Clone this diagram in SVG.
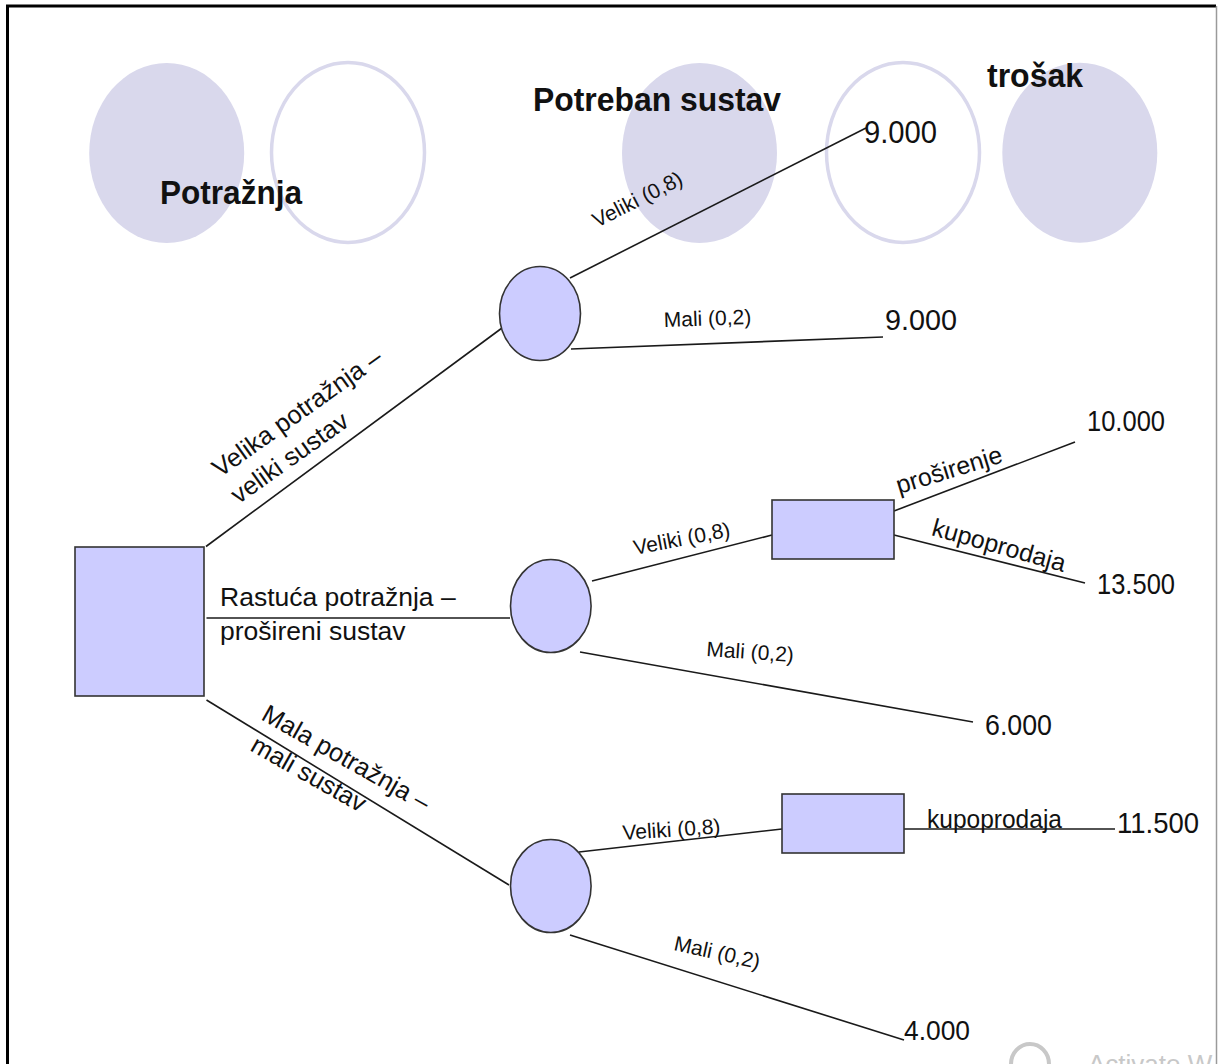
<svg xmlns="http://www.w3.org/2000/svg" width="1219" height="1064" viewBox="0 0 1219 1064">
<style>
  .bgf { fill: #d9d8ec; }
  .bgo { fill: none; stroke: #d9d8ec; stroke-width: 3.5; }
  .node { fill: #ccccff; stroke: #333333; stroke-width: 1.6; }
  .conn line { stroke: #1a1a1a; stroke-width: 1.6; }
  text { font-family: "Liberation Sans", Arial, sans-serif; fill: #111111; }
  .hdr { font-weight: bold; font-size: 34px; }
  .big { font-size: 25.5px; }
  .prob { font-size: 21px; }
  .act { font-size: 25px; }
  .num { font-size: 29px; }
  .wm { font-size: 26px; fill: #c8c8c8; }
</style>
<rect x="0" y="0" width="1219" height="1064" fill="#ffffff"/>
<!-- frame -->
<path d="M7.5,1070 V6 H1216" fill="none" stroke="#000000" stroke-width="3"/>
<line x1="1216.5" y1="6" x2="1216.5" y2="1070" stroke="#9a9a9a" stroke-width="1.5"/>

<!-- background decoration ellipses -->
<g id="background">
  <ellipse class="bgf" cx="166.7" cy="153" rx="77.5" ry="90"/>
  <ellipse class="bgo" cx="348" cy="152.5" rx="76.5" ry="90"/>
  <ellipse class="bgf" cx="699.5" cy="153" rx="77.5" ry="90"/>
  <ellipse class="bgo" cx="903" cy="152.5" rx="76.5" ry="90"/>
  <ellipse class="bgf" cx="1079.8" cy="152.7" rx="77.5" ry="90"/>
</g>

<!-- headers -->
<text class="hdr" x="160" y="204" textLength="142" lengthAdjust="spacingAndGlyphs">Potražnja</text>
<text class="hdr" x="533" y="111" textLength="248" lengthAdjust="spacingAndGlyphs">Potreban sustav</text>
<text class="hdr" x="987" y="86.5" textLength="96" lengthAdjust="spacingAndGlyphs">trošak</text>

<!-- connectors -->
<g id="connectors" class="conn">
  <line x1="206" y1="546.5" x2="502" y2="328"/>
  <line x1="570" y1="278" x2="866" y2="128"/>
  <line x1="571" y1="349" x2="883" y2="337"/>
  <line x1="206.5" y1="618" x2="510" y2="618"/>
  <line x1="592" y1="581" x2="772" y2="535"/>
  <line x1="894" y1="511" x2="1075" y2="442"/>
  <line x1="894" y1="535" x2="1085" y2="583"/>
  <line x1="580" y1="652" x2="973" y2="722"/>
  <line x1="206.5" y1="700" x2="509" y2="885"/>
  <line x1="579" y1="852" x2="782" y2="829"/>
  <line x1="904" y1="829" x2="1115" y2="829"/>
  <line x1="570" y1="935" x2="904" y2="1040"/>
</g>

<!-- nodes -->
<g id="root">
  <rect class="node" x="75" y="547" width="129" height="149"/>
</g>
<g id="chance-high">
  <ellipse class="node" cx="540" cy="313.5" rx="40.5" ry="47"/>
</g>
<g id="chance-growing">
  <ellipse class="node" cx="550.8" cy="606" rx="40.3" ry="46.5"/>
</g>
<g id="chance-low">
  <ellipse class="node" cx="550.8" cy="886" rx="40.3" ry="46.5"/>
</g>
<g id="decision-growing">
  <rect class="node" x="772" y="500" width="122" height="59"/>
</g>
<g id="decision-low">
  <rect class="node" x="782" y="794" width="122" height="59"/>
</g>

<!-- branch labels -->
<g id="labels">
  <text class="big" transform="translate(220,478) rotate(-35.4)">Velika potražnja –</text>
  <text class="big" transform="translate(238.5,504.5) rotate(-35.4)">veliki sustav</text>
  <text class="big" x="220" y="606" style="font-size:26.5px">Rastuća potražnja –</text>
  <text class="big" x="220" y="640" style="font-size:26.5px">prošireni sustav</text>
  <text class="big" transform="translate(260,719) rotate(29.5)">Mala potražnja –</text>
  <text class="big" transform="translate(249,750) rotate(29.5)">mali sustav</text>

  <text class="prob" transform="translate(597,228) rotate(-27)">Veliki (0,8)</text>
  <text class="prob" transform="translate(664,327) rotate(-2)">Mali (0,2)</text>
  <text class="prob" transform="translate(635,555) rotate(-11)">Veliki (0,8)</text>
  <text class="prob" transform="translate(706,656) rotate(4)">Mali (0,2)</text>
  <text class="prob" transform="translate(623,840) rotate(-4)">Veliki (0,8)</text>
  <text class="prob" transform="translate(673,950) rotate(12.5)">Mali (0,2)</text>

  <text class="act" transform="translate(899,494) rotate(-17)">proširenje</text>
  <text class="act" transform="translate(930.5,535) rotate(15.6)">kupoprodaja</text>
  <text class="act" x="927" y="828" textLength="135" lengthAdjust="spacingAndGlyphs">kupoprodaja</text>
</g>

<!-- outcomes -->
<g id="outcomes">
  <text class="num" x="864" y="143" style="font-size:31px" textLength="73" lengthAdjust="spacingAndGlyphs">9.000</text>
  <text class="num" x="885" y="330" textLength="72" lengthAdjust="spacingAndGlyphs">9.000</text>
  <text class="num" x="1087" y="431" textLength="78" lengthAdjust="spacingAndGlyphs">10.000</text>
  <text class="num" x="1097" y="594" textLength="78" lengthAdjust="spacingAndGlyphs">13.500</text>
  <text class="num" x="985" y="735" textLength="67" lengthAdjust="spacingAndGlyphs">6.000</text>
  <text class="num" x="1117" y="833" textLength="82" lengthAdjust="spacingAndGlyphs">11.500</text>
  <text class="num" x="904" y="1040" style="font-size:27px" textLength="66" lengthAdjust="spacingAndGlyphs">4.000</text>
</g>

<!-- watermark remnants -->
<ellipse cx="1030" cy="1064" rx="19" ry="20" fill="none" stroke="#c8c8c8" stroke-width="4"/>
<text class="wm" x="1088" y="1073">Activate W</text>
</svg>
